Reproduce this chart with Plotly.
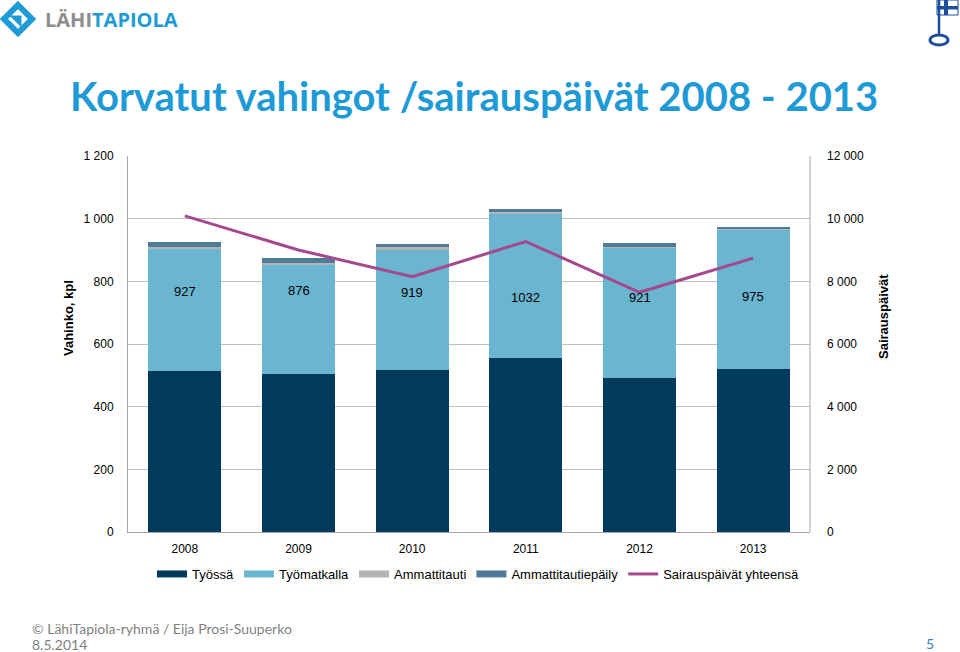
import plotly.graph_objects as go

# ---------------- data ----------------
years = ["2008", "2009", "2010", "2011", "2012", "2013"]
tyossa = [514, 503, 517, 556, 492, 520]
tyomatkalla = [391, 351, 385, 458, 416, 445]
ammattitauti = [5, 5, 6, 7, 1, 1]
ammattitautiepaily = [17, 17, 11, 11, 12, 9]
totals = [927, 876, 919, 1032, 921, 975]
sairauspaivat = [10090, 9000, 8150, 9270, 7650, 8740]

left_ticks = [0, 200, 400, 600, 800, 1000, 1200]
left_ticktext = ["0", "200", "400", "600", "800", "1 000", "1 200"]
right_ticks = [0, 2000, 4000, 6000, 8000, 10000, 12000]
right_ticktext = ["0", "2 000", "4 000", "6 000", "8 000", "10 000", "12 000"]

# label heights (left-axis units) for the total labels
label_y = [766, 772, 763, 750, 747, 753]

# ---------------- geometry helpers ----------------
W, H = 960, 652
L, R, T, B = 128, 810, 156, 532

def px(x):
    return (x - L) / (R - L)

def py(y):
    return (B - y) / (B - T)

FONT = "Liberation Sans, Arial, sans-serif"
BLUE = "#1E9BD7"

fig = go.Figure()

bar_specs = [
    ("Työssä", tyossa, "#003A5D"),
    ("Työmatkalla", tyomatkalla, "#6AB6D0"),
    ("Ammattitauti", ammattitauti, "#B4B4B4"),
    ("Ammattitautiepäily", ammattitautiepaily, "#4F7A98"),
]
for name, vals, col in bar_specs:
    fig.add_trace(go.Bar(x=years, y=vals, name=name, marker_color=col,
                         marker_line_width=0, hoverinfo="skip", showlegend=False))
# legend entries drawn as wide flat rectangles, like the reference
for name, vals, col in bar_specs:
    fig.add_trace(go.Scatter(x=[None], y=[None], name=name, mode="lines",
                             line=dict(color=col, width=7), hoverinfo="skip"))

fig.add_trace(go.Scatter(x=years, y=sairauspaivat, name="Sairauspäivät yhteensä",
                         yaxis="y2", mode="lines",
                         line=dict(color="#A5498F", width=3), hoverinfo="skip"))

annotations = []
for i, (tot, ly) in enumerate(zip(totals, label_y)):
    annotations.append(dict(x=i, y=ly, xref="x", yref="y", text=str(tot),
                            showarrow=False, font=dict(family=FONT, size=13, color="#000")))

# title
annotations.append(dict(x=px(68), y=py(96), xref="paper", yref="paper",
                        text="<b>Korvatut vahingot /sairauspäivät 2008 - 2013</b>",
                        showarrow=False, xanchor="left", yanchor="middle",
                        font=dict(family="Lato, Open Sans, sans-serif", size=40, color=BLUE)))
# axis titles
annotations.append(dict(x=px(68), y=py(318), xref="paper", yref="paper",
                        text="<b>Vahinko, kpl</b>", textangle=-90, showarrow=False,
                        xanchor="center", yanchor="middle",
                        font=dict(family=FONT, size=13, color="#000")))
annotations.append(dict(x=px(883), y=py(316), xref="paper", yref="paper",
                        text="<b>Sairauspäivät</b>", textangle=-90, showarrow=False,
                        xanchor="center", yanchor="middle",
                        font=dict(family=FONT, size=13, color="#000")))
# logo text
annotations.append(dict(x=px(43), y=py(19), xref="paper", yref="paper",
                        text="<b><span style='color:#8C8C8C'>LÄHI</span>TAPIOLA</b>",
                        showarrow=False, xanchor="left", yanchor="middle",
                        font=dict(family="Open Sans, sans-serif", size=20, color=BLUE)))
# footer
annotations.append(dict(x=px(30), y=py(628), xref="paper", yref="paper",
                        text="© LähiTapiola-ryhmä / Eija Prosi-Suuperko",
                        showarrow=False, xanchor="left", yanchor="middle",
                        font=dict(family="Lato, sans-serif", size=14, color="#7F7F7F")))
annotations.append(dict(x=px(30), y=py(644), xref="paper", yref="paper",
                        text="8.5.2014", showarrow=False, xanchor="left", yanchor="middle",
                        font=dict(family="Lato, sans-serif", size=14, color="#7F7F7F")))
annotations.append(dict(x=px(930), y=py(643), xref="paper", yref="paper",
                        text="5", showarrow=False, xanchor="center", yanchor="middle",
                        font=dict(family="Lato, sans-serif", size=14, color="#3D7FB8")))

shapes = []
# LähiTapiola icon: rounded diamond outline + inner mark
cx, cy, s = 18, 19, 14
shapes.append(dict(type="path", xref="paper", yref="paper",
                   path=f"M {px(cx)} {py(cy - s)} L {px(cx + s)} {py(cy)} L {px(cx)} {py(cy + s)} "
                        f"L {px(cx - s)} {py(cy)} Z",
                   line=dict(color=BLUE, width=6), fillcolor="rgba(0,0,0,0)"))
shapes.append(dict(type="path", xref="paper", yref="paper",
                   path=f"M {px(cx - 5)} {py(cy - 2)} L {px(cx + 2)} {py(cy - 2)} L {px(cx + 2)} {py(cy + 5)} Z",
                   line=dict(color=BLUE, width=3), fillcolor=BLUE))
# key emblem top-right
shapes.append(dict(type="rect", xref="paper", yref="paper",
                   x0=px(937), x1=px(958), y0=py(0), y1=py(15),
                   line=dict(color="#1F4E9A", width=1), fillcolor="white"))
shapes.append(dict(type="rect", xref="paper", yref="paper",
                   x0=px(944), x1=px(948), y0=py(0), y1=py(15),
                   line=dict(width=0), fillcolor="#1F4E9A"))
shapes.append(dict(type="rect", xref="paper", yref="paper",
                   x0=px(937), x1=px(958), y0=py(6), y1=py(9.5),
                   line=dict(width=0), fillcolor="#1F4E9A"))
shapes.append(dict(type="line", xref="paper", yref="paper",
                   x0=px(939), x1=px(939), y0=py(0), y1=py(35),
                   line=dict(color="#1F4E9A", width=2.5)))
shapes.append(dict(type="circle", xref="paper", yref="paper",
                   x0=px(930), x1=px(948), y0=py(35), y1=py(45),
                   line=dict(color="#1F4E9A", width=3), fillcolor="rgba(0,0,0,0)"))
# right frame line
shapes.append(dict(type="line", xref="paper", yref="paper", x0=1, x1=1, y0=0, y1=1,
                   line=dict(color="#A6A6A6", width=1)))

fig.update_layout(
    width=W, height=H,
    margin=dict(l=L, r=W - R, t=T, b=H - B, pad=0),
    paper_bgcolor="white", plot_bgcolor="white",
    barmode="stack", bargap=0.355,
    font=dict(family=FONT, size=12, color="#000"),
    xaxis=dict(type="category", range=[-0.5, 5.5], showgrid=False, showline=True,
               linecolor="#A6A6A6", linewidth=1, ticks="", tickfont=dict(size=12),
               ticklabelstandoff=6),
    yaxis=dict(range=[0, 1200], tickvals=left_ticks, ticktext=left_ticktext,
               showgrid=True, gridcolor="#BFBFBF", gridwidth=1,
               showline=True, linecolor="#A6A6A6", zeroline=False,
               ticks="", tickfont=dict(size=12), ticklabelstandoff=11),
    yaxis2=dict(range=[0, 12000], tickvals=right_ticks, ticktext=right_ticktext,
                overlaying="y", side="right", showgrid=False, zeroline=False,
                showline=False, ticks="", tickfont=dict(size=12), ticklabelstandoff=16),
    legend=dict(orientation="h", x=px(152), y=py(559), xanchor="left", yanchor="top",
                font=dict(size=13), itemwidth=30, traceorder="normal",
                bgcolor="rgba(0,0,0,0)"),
    showlegend=True,
    annotations=annotations,
    shapes=shapes,
)

fig.write_html(
    "out.html",
    config={"displayModeBar": False},
    post_script="document.body.style.margin='0';document.body.style.overflow='hidden';",
)
